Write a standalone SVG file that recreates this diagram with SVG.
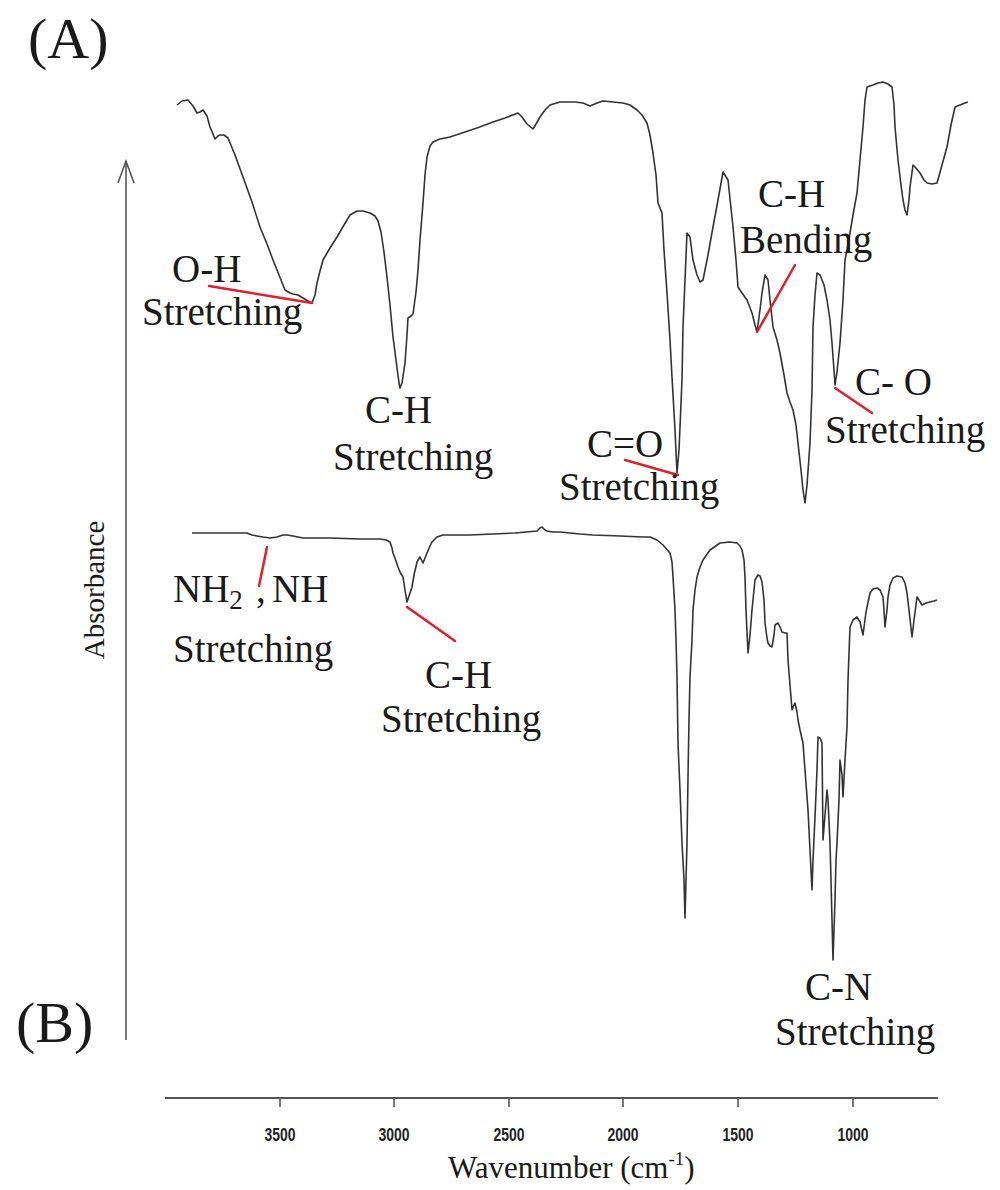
<svg xmlns="http://www.w3.org/2000/svg" width="1000" height="1190" viewBox="0 0 1000 1190">
<style>
.serif{font-family:"Liberation Serif","Times New Roman",serif;fill:#1a1a1a}
.lbl{font-size:39px}
.panel{font-size:58px}
.tick{font-family:"Liberation Sans",Arial,sans-serif;font-weight:bold;font-size:18px;fill:#222}
.spec{fill:none;stroke:#333;stroke-width:1.6;stroke-linejoin:round}
.lead{stroke:#e0202a;stroke-width:2.5;stroke-linecap:round}
.ax{stroke:#555;fill:none}
</style>
<rect width="1000" height="1190" fill="#fff"/>
<g id="panel-labels" class="serif panel">
<text x="28" y="58">(A)</text>
<text x="16" y="1042">(B)</text>
</g>
<g id="absorbance-axis">
<line class="ax" x1="126" y1="161" x2="126" y2="1040" stroke-width="1.6"/>
<polyline class="ax" points="118,183 126,161 134,183" stroke-width="1.6"/>
<text class="serif" font-size="29" transform="translate(104,590) rotate(-90)" text-anchor="middle">Absorbance</text>
</g>
<g id="spectrum-a">
<path class="spec" d="M177,105 L182,101 188,100 193,106 197,113 200,112 203,110 207,116 210,127 213,134 215,139 218,136 220,135 224,135 228,138 235,155 243,177 252,202 260,227 267,244 273,260 279,275 285,290 290,293 293,294 298,295 303,298 308,301 312,303 315,295 317,283 320,271 323,260 330,248 337,237 344,225 350,215 357,211 363,211 370,213 375,216 378,221 381,232 384,252 387,277 390,305 393,337 396,360 399,383 400,388 402,383 405,363 407,335 408,318 411,316 413,314 416,292 418,270 420,240 423,203 425,175 427,157 430,146 433,142 440,139 450,137 465,132 477,128 493,122 505,118 518,113 522,117 527,124 533,129 536,124 540,117 545,110 550,105 560,102 575,102 583,103 590,106 597,103 603,101 613,102 623,103 630,105 637,110 642,115 647,123 650,135 653,153 656,175 658,203 662,213 664,250 667,293 670,340 672,377 675,430 677,473 679,450 680,427 682,380 683,327 685,280 687,233 690,237 693,260 697,275 700,282 703,280 708,255 713,227 718,200 723,172 728,180 733,227 736,260 738,287 742,293 747,300 752,313 755,325 757,332 760,310 762,293 765,275 768,280 770,300 773,327 777,340 780,353 784,375 787,393 790,402 793,410 796,425 798,443 801,470 803,490 805,503 807,485 810,443 812,390 813,327 815,295 817,273 820,275 824,285 827,300 830,320 832,343 834,370 835,385 837,372 840,343 843,300 845,260 848,245 850,233 853,215 857,193 860,160 863,127 865,100 867,87 873,85 878,83 883,82 888,84 892,87 894,105 895,127 898,160 901,185 903,200 905,210 907,215 909,200 910,187 913,165 916,168 920,173 924,180 927,183 932,184 937,183 942,165 947,147 951,125 955,107 960,105 965,103 968,102"/>
</g>
<g id="spectrum-b">
<path class="spec" d="M192,533 L220,533 247,533 252,535 257,536 263,537 270,538 277,537 283,535 287,535 293,536 298,537 303,538 330,538 360,539 380,539 386,540 390,542 392,548 393,553 396,561 398,567 400,572 403,577 405,590 407,602 409,596 412,587 414,575 417,562 420,557 423,563 425,558 427,553 430,546 432,542 437,537 443,535 470,535 493,534 515,533 537,531 540,528 542,527 545,530 547,531 553,532 560,532 580,534 593,535 620,536 643,537 650,537 657,540 663,545 670,553 672,562 673,577 675,610 676,640 677,677 678,743 680,790 682,843 684,880 685,918 686,880 687,843 688,777 689,720 690,677 692,640 693,610 695,590 697,577 700,567 703,560 710,550 720,543 730,542 737,543 740,546 742,550 744,560 745,577 746,610 748,653 750,635 752,610 754,590 755,580 758,575 760,576 762,582 764,600 765,623 767,638 768,643 770,646 772,647 774,635 775,625 778,623 780,627 782,632 785,633 787,633 788,660 790,685 792,710 794,705 795,703 797,712 798,720 800,730 803,743 805,770 808,810 810,850 812,890 813,860 815,817 817,770 818,737 820,738 822,743 823,840 825,815 827,790 828,800 830,843 831,880 832,920 833,960 835,900 836,860 837,843 839,800 840,760 842,775 843,797 845,760 847,727 848,680 850,627 853,620 857,617 860,622 863,635 866,612 870,593 873,589 877,588 880,590 883,597 884,610 885,627 887,610 888,597 890,585 893,578 897,576 902,577 905,583 907,593 909,610 912,637 914,620 917,597 919,600 922,605 926,603 930,602 934,601 937,600"/>
</g>
<g id="leader-lines">
<line class="lead" x1="209" y1="286" x2="312" y2="303"/>
<line class="lead" x1="625" y1="460" x2="678" y2="475"/>
<line class="lead" x1="795" y1="265" x2="757" y2="332"/>
<line class="lead" x1="835" y1="388" x2="872" y2="413"/>
<line class="lead" x1="267" y1="547" x2="259" y2="586"/>
<line class="lead" x1="407" y1="607" x2="455" y2="641"/>
</g>
<g id="band-labels" class="serif lbl">
<text x="172" y="282">O-H</text>
<text x="142" y="325">Stretching</text>
<text x="365" y="423">C-H</text>
<text x="333" y="470">Stretching</text>
<text x="587" y="457">C=O</text>
<text x="559" y="500">Stretching</text>
<text x="758" y="207">C-H</text>
<text x="740" y="253">Bending</text>
<text x="855" y="395">C- O</text>
<text x="825" y="443">Stretching</text>
<text x="173" y="602">NH<tspan font-size="27" dy="7">2</tspan><tspan dy="-7" x="256">,</tspan><tspan x="272">NH</tspan></text>
<text x="173" y="662">Stretching</text>
<text x="425" y="688">C-H</text>
<text x="381" y="732">Stretching</text>
<text x="805" y="1000">C-N</text>
<text x="775" y="1045">Stretching</text>
</g>
<g id="x-axis">
<line class="ax" x1="165" y1="1098" x2="938" y2="1098" stroke-width="2.2"/>
<path class="ax" stroke-width="1.6" d="M280,1098V1107M394,1098V1107M509,1098V1107M623,1098V1107M738,1098V1107M853,1098V1107"/>
<g class="tick" text-anchor="middle">
<text x="280" y="1141" textLength="31" lengthAdjust="spacingAndGlyphs">3500</text>
<text x="394" y="1141" textLength="31" lengthAdjust="spacingAndGlyphs">3000</text>
<text x="509" y="1141" textLength="31" lengthAdjust="spacingAndGlyphs">2500</text>
<text x="623" y="1141" textLength="31" lengthAdjust="spacingAndGlyphs">2000</text>
<text x="738" y="1141" textLength="31" lengthAdjust="spacingAndGlyphs">1500</text>
<text x="853" y="1141" textLength="31" lengthAdjust="spacingAndGlyphs">1000</text>
</g>
<text class="serif" font-size="31" x="448" y="1178">Wavenumber (cm<tspan font-size="19" dy="-13">-1</tspan><tspan dy="13">)</tspan></text>
</g>
</svg>
